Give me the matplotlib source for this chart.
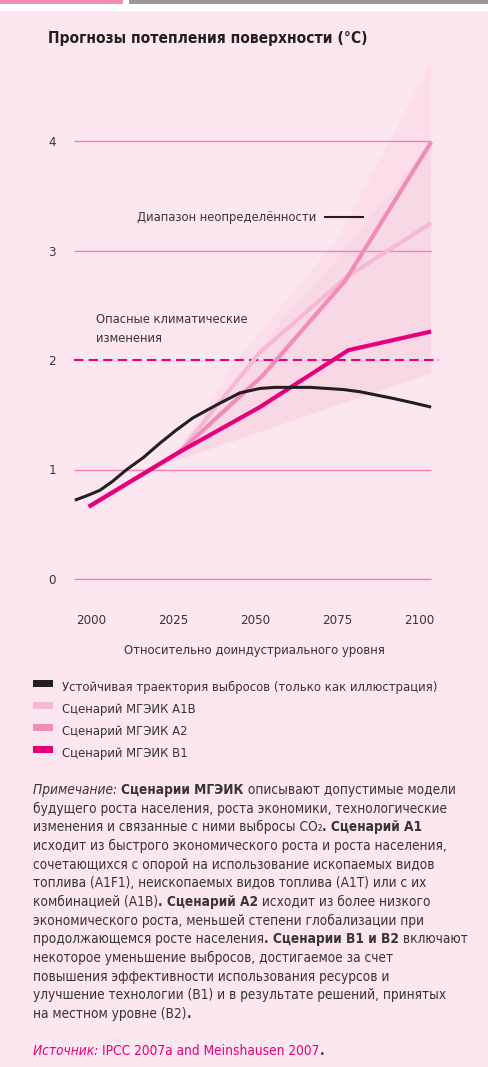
# surface warming projections chart
import matplotlib
matplotlib.use("Agg")
import matplotlib.pyplot as plt
from matplotlib import font_manager as fm
from matplotlib.patches import Rectangle

W, H = 488, 1067

# pick a narrow face if one is installed
faces = {(f.name, f.stretch) for f in fm.fontManager.ttflist}
STRETCH = 'normal'
if any(n == 'Liberation Sans Narrow' for n, s in faces):
    FAMILY = 'Liberation Sans Narrow'
elif ('DejaVu Sans', 'condensed') in faces:
    FAMILY = 'DejaVu Sans'
    STRETCH = 'condensed'
else:
    FAMILY = 'Roboto'
plt.rcParams['font.family'] = [FAMILY, 'DejaVu Sans']
plt.rcParams['font.stretch'] = STRETCH

# colours
BG = '#fce7f0'
DARK = '#3a3436'
MAGENTA = '#e6007e'
A2_COL = '#f08cb8'
A1B_COL = '#f5b9d4'
GRID_COL = '#f07fb2'

# data
black_years = [1995.1, 1998.7, 2002.7, 2006.5, 2010.9, 2016, 2021, 2026, 2031, 2038.3, 2045.4,
               2051.5, 2056, 2061.6, 2067, 2072, 2077, 2082, 2087, 2092, 2098, 2103.7]
black_vals = [0.72, 0.76, 0.81, 0.89, 1.0, 1.11, 1.24, 1.36, 1.47, 1.59, 1.70,
              1.74, 1.75, 1.75, 1.75, 1.74, 1.73, 1.71, 1.68, 1.65, 1.61, 1.57]

a1b_years = [1999.3, 2027, 2051.5, 2078, 2103.7]
a1b_vals = [0.66, 1.16, 2.07, 2.76, 3.25]

a2_years = [1999.3, 2027, 2052.4, 2077.4, 2103.7]
a2_vals = [0.66, 1.16, 1.86, 2.72, 3.99]

b1_years = [1999.3, 2027, 2051.5, 2078.5, 2103.7]
b1_vals = [0.66, 1.16, 1.57, 2.09, 2.26]

# uncertainty range (outer and inner shade)
outer_up_years = [1999.3, 2027, 2044.5, 2075, 2091, 2103.7]
outer_up_vals = [0.66, 1.2, 2.0, 3.1, 4.0, 4.72]
inner_up_years = [1999.3, 2027, 2060.7, 2076, 2103.7]
inner_up_vals = [0.66, 1.17, 2.45, 2.95, 4.0]
low_years = [2103.7, 2020, 1999.3]
low_vals = [1.88, 1.02, 0.64]

grid_vals = [0, 1, 3, 4]
danger_val = 2
x_ticks = [2000, 2025, 2050, 2075, 2100]
y_ticks = [0, 1, 2, 3, 4]

legend_labels = ['Устойчивая траектория выбросов (только как иллюстрация)',
                 'Сценарий МГЭИК А1В', 'Сценарий МГЭИК А2', 'Сценарий МГЭИК В1']
legend_colors = ['#231f20', A1B_COL, A2_COL, MAGENTA]

note_lines = [
    [('Примечание: ', 'i'), ('Сценарии МГЭИК', 'b'), (' описывают допустимые модели', 'r')],
    [('будущего роста населения, роста экономики, технологические', 'r')],
    [('изменения и связанные с ними выбросы CO₂', 'r'), ('. Сценарий A1', 'b')],
    [('исходит из быстрого экономического роста и роста населения,', 'r')],
    [('сочетающихся с опорой на использование ископаемых видов', 'r')],
    [('топлива (A1F1), неископаемых видов топлива (A1T) или с их', 'r')],
    [('комбинацией (A1B)', 'r'), ('. Сценарий A2', 'b'), (' исходит из более низкого', 'r')],
    [('экономического роста, меньшей степени глобализации при', 'r')],
    [('продолжающемся росте населения', 'r'), ('. Сценарии B1 и B2', 'b'), (' включают', 'r')],
    [('некоторое уменьшение выбросов, достигаемое за счет', 'r')],
    [('повышения эффективности использования ресурсов и', 'r')],
    [('улучшение технологии (B1) и в результате решений, принятых', 'r')],
    [('на местном уровне (B2)', 'r'), ('.', 'b')],
]
source_runs = [('Источник: ', 'i', MAGENTA), ('IPCC 2007a and Meinshausen 2007', 'r', MAGENTA),
               ('.', 'b', DARK)]


def fx(px):
    return px / W


def fy(py):
    return 1 - py / H


fig = plt.figure(figsize=(W / 100, H / 100), dpi=100)
fig.patch.set_facecolor('white')
renderer = fig.canvas.get_renderer()


def fit_text(x, y, s, width, max_size=11, **kw):
    # shrink a text so that it spans about `width` pixels
    t = fig.text(fx(x), fy(y), s, fontsize=10, va='baseline', **kw)
    size = min(max_size, 10 * width / t.get_window_extent(renderer).width)
    t.set_fontsize(size)
    return t


# page background and top bars
fig.add_artist(Rectangle((0, 0), 1, fy(11), transform=fig.transFigure, color=BG, lw=0, zorder=-10))
fig.add_artist(Rectangle((0, fy(4)), fx(123), 4 / H, transform=fig.transFigure, color='#f08cb8',
                         lw=0, zorder=-10))
fig.add_artist(Rectangle((fx(129), fy(4)), 1 - fx(129), 4 / H, transform=fig.transFigure,
                         color='#98979b', lw=0, zorder=-10))

fit_text(48, 43, 'Прогнозы потепления поверхности (°C)', 317, max_size=13,
         fontweight='bold', color='#231f20')

# main axes: left 74px, right 440px, top 50px, bottom 600px
ax = fig.add_axes([fx(74), fy(600), fx(440) - fx(74), (600 - 50) / H])
ax.set_facecolor('none')
px_per_year = 3.28
ax.set_xlim(2000 - (91 - 74) / px_per_year, 2000 + (440 - 91) / px_per_year)
ax.set_ylim((579 - 600) / 109.5, (579 - 50) / 109.5)
for s in ax.spines.values():
    s.set_visible(False)

ax.fill(outer_up_years + low_years, outer_up_vals + low_vals, color='#fbdeea', lw=0, zorder=1)
ax.fill(inner_up_years + low_years, inner_up_vals + low_vals, color='#f9d8e6', lw=0, zorder=1.1)

x0 = ax.get_xlim()[0]
ax.hlines(grid_vals, x0, 2103.7, color=GRID_COL, lw=1.0, zorder=2)
ax.hlines(danger_val, x0, 2106.2, color=MAGENTA, lw=1.5, linestyles=(0, (4.5, 2.5)), zorder=2)

ax.plot(a1b_years, a1b_vals, color=A1B_COL, lw=3.0, solid_capstyle='butt', zorder=3)
ax.plot(a2_years, a2_vals, color=A2_COL, lw=3.0, solid_capstyle='butt', zorder=4)
ax.plot(b1_years, b1_vals, color=MAGENTA, lw=3.0, solid_capstyle='butt', zorder=5)
ax.plot(black_years, black_vals, color='#231f20', lw=2.2, solid_capstyle='butt', zorder=6)

ax.set_xticks(x_ticks)
ax.set_yticks(y_ticks)
ax.tick_params(length=0, labelsize=9.5, labelcolor=DARK)
ax.tick_params(axis='y', pad=13)
ax.tick_params(axis='x', pad=10)

t = fit_text(254, 654, 'Относительно доиндустриального уровня', 263, color=DARK)
t.set_ha('center')
fit_text(137, 221, 'Диапазон неопределённости', 180, color=DARK)
fig.add_artist(plt.Line2D([fx(325), fx(363)], [fy(217), fy(217)], color='#231f20', lw=1.5))
t = fit_text(96, 323, 'Опасные климатические', 152, color=DARK)
fig.text(fx(96), fy(342), 'изменения', fontsize=t.get_fontsize(), color=DARK, va='baseline')

# legend
leg_size = None
for i, (lab, col) in enumerate(zip(legend_labels, legend_colors)):
    yc = 683.5 + 22 * i
    fig.add_artist(Rectangle((fx(33), fy(yc + 3.5)), fx(20), 7 / H, transform=fig.transFigure,
                             color=col, lw=0))
    if leg_size is None:
        leg_size = fit_text(62, yc + 7, lab, 375, color=DARK).get_fontsize()
    else:
        fig.text(fx(62), fy(yc + 7), lab, fontsize=leg_size, color=DARK, va='baseline')

# note with mixed styles
styles = {'r': dict(), 'b': dict(fontweight='bold'), 'i': dict(fontstyle='italic')}


def draw_runs(runs, x, y, size):
    start = x
    for run in runs:
        txt, st = run[0], run[1]
        col = run[2] if len(run) > 2 else DARK
        tt = fig.text(fx(x), fy(y), txt, fontsize=size, color=col, va='baseline', **styles[st])
        x += tt.get_window_extent(renderer).width
    return x - start


# size the note so its widest line spans about 437 px
probe = fig.add_axes([0, 0, 0.01, 0.01])
probe.set_visible(False)
widths = []
for runs in note_lines:
    w = 0
    for run in runs:
        tt = probe.text(0, 0, run[0], fontsize=10, **styles[run[1]])
        w += tt.get_window_extent(renderer).width
    widths.append(w)
note_size = min(11, 10 * 437 / max(widths))

for i, runs in enumerate(note_lines):
    draw_runs(runs, 33, 794 + 18.67 * i, note_size)
draw_runs(source_runs, 33, 1055, note_size)

fig.savefig('out.png', dpi=100, facecolor=fig.get_facecolor())
